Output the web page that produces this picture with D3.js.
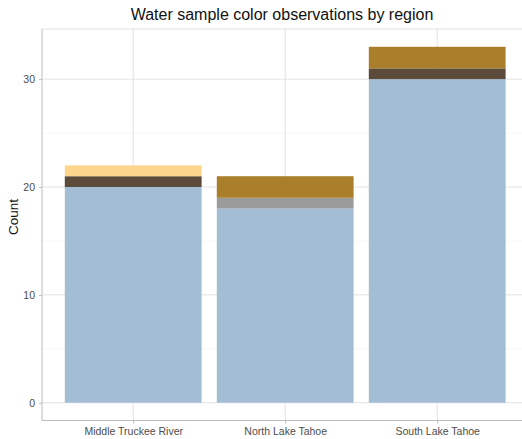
<!DOCTYPE html>
<html>
<head>
<meta charset="utf-8">
<script src="https://cdn.jsdelivr.net/npm/d3@7"></script>
<style>
  body { margin: 0; background: #fff; overflow: hidden; }
  svg { font-family: Arial, "Liberation Sans", sans-serif; display: block; }
</style>
</head>
<body>
<div id="chart"></div>
<script>
// regions on the x axis
var regions = ["Middle Truckee River", "North Lake Tahoe", "South Lake Tahoe"]
// colour observations, stacked bottom to top
var colorNames = ["Clear", "Dark brown", "Pale yellow", "Gray", "Tan"]
var clearCounts = [20, 18, 30]
var darkBrownCounts = [1, 0, 1]
var paleYellowCounts = [1, 0, 0]
var grayCounts = [0, 1, 0]
var tanCounts = [0, 2, 2]
var yTicks = [0, 10, 20, 30]
var yMinor = [5, 15, 25]

var fills = ["#a3bdd5", "#5c4a3b", "#fdd58b", "#9b9b9b", "#a97f2b"]

var seriesArrays = [clearCounts, darkBrownCounts, paleYellowCounts, grayCounts, tanCounts]
var table = regions.map(function (r, i) {
    var row = { region: r }
    colorNames.forEach(function (c, j) { row[c] = seriesArrays[j][i] })
    return row
})

var W = 522, H = 439
// panel runs a bit past the right edge of the picture (it is cropped there)
var margin = { top: 29, left: 42, bottom: 18.5 }
var innerW = 486.4,
    innerH = H - margin.top - margin.bottom

var svg = d3.select("#chart").append("svg")
    .attr("width", W)
    .attr("height", H)

var g = svg.append("g")
    .attr("transform", "translate(" + margin.left + "," + margin.top + ")")

var stacked = d3.stack().keys(colorNames)(table)
var maxTotal = d3.max(stacked[stacked.length - 1], function (d) { return d[1] })
var pad = maxTotal * 0.05

var x = d3.scalePoint()
    .domain(regions)
    .range([0, innerW])
    .padding(0.6)
var barW = x.step() * 0.9

var y = d3.scaleLinear()
    .domain([-pad, maxTotal + pad])
    .range([innerH, 0])

// grid
g.selectAll(".minor").data(yMinor).enter().append("line")
    .attr("x1", 0).attr("x2", innerW)
    .attr("y1", function (d) { return y(d) }).attr("y2", function (d) { return y(d) })
    .attr("stroke", "#f2f2f2").attr("stroke-width", 0.6)
g.selectAll(".major").data(yTicks).enter().append("line")
    .attr("x1", 0).attr("x2", innerW)
    .attr("y1", function (d) { return y(d) }).attr("y2", function (d) { return y(d) })
    .attr("stroke", "#e3e3e3").attr("stroke-width", 1)
g.selectAll(".vgrid").data(regions).enter().append("line")
    .attr("x1", function (d) { return x(d) })
    .attr("x2", function (d) { return x(d) })
    .attr("y1", 0).attr("y2", innerH)
    .attr("stroke", "#e3e3e3").attr("stroke-width", 1)
g.append("line")
    .attr("x1", 0).attr("x2", innerW).attr("y1", 0).attr("y2", 0)
    .attr("stroke", "#e3e3e3")

// bars
g.selectAll(".layer").data(stacked).enter().append("g")
    .attr("fill", function (d, i) { return fills[i] })
    .selectAll("rect")
    .data(function (d) { return d.filter(function (p) { return p[1] > p[0] }) })
    .enter().append("rect")
    .attr("x", function (d) { return x(d.data.region) - barW / 2 })
    .attr("width", barW)
    .attr("y", function (d) { return y(d[1]) })
    .attr("height", function (d) { return y(d[0]) - y(d[1]) })

// axes
var yAxis = g.append("g")
    .call(d3.axisLeft(y).tickValues(yTicks).tickSize(3).tickPadding(4))
var xAxis = g.append("g")
    .attr("transform", "translate(0," + innerH + ")")
    .call(d3.axisBottom(x).tickSize(3).tickPadding(4))

;[yAxis, xAxis].forEach(function (a) {
    a.select(".domain").attr("stroke", "#bdbdbd").attr("stroke-width", 1)
    a.selectAll(".tick line").attr("stroke", "#bdbdbd")
    a.selectAll("text").attr("fill", "#4d4d4d").attr("font-size", 10.5)
        .attr("font-family", "Arial, 'Liberation Sans', sans-serif")
})
xAxis.select(".domain").attr("d", "M0,0H" + innerW)
yAxis.select(".domain").attr("d", "M0,0V" + innerH)

// titles
svg.append("text")
    .attr("x", margin.left + 240)
    .attr("y", 20)
    .attr("text-anchor", "middle")
    .attr("font-size", 16)
    .attr("fill", "#111")
    .text("Water sample color observations by region")

svg.append("text")
    .attr("transform", "translate(18," + 217 + ") rotate(-90)")
    .attr("text-anchor", "middle")
    .attr("font-size", 13.5)
    .attr("fill", "#111")
    .text("Count")
</script>
</body>
</html>
